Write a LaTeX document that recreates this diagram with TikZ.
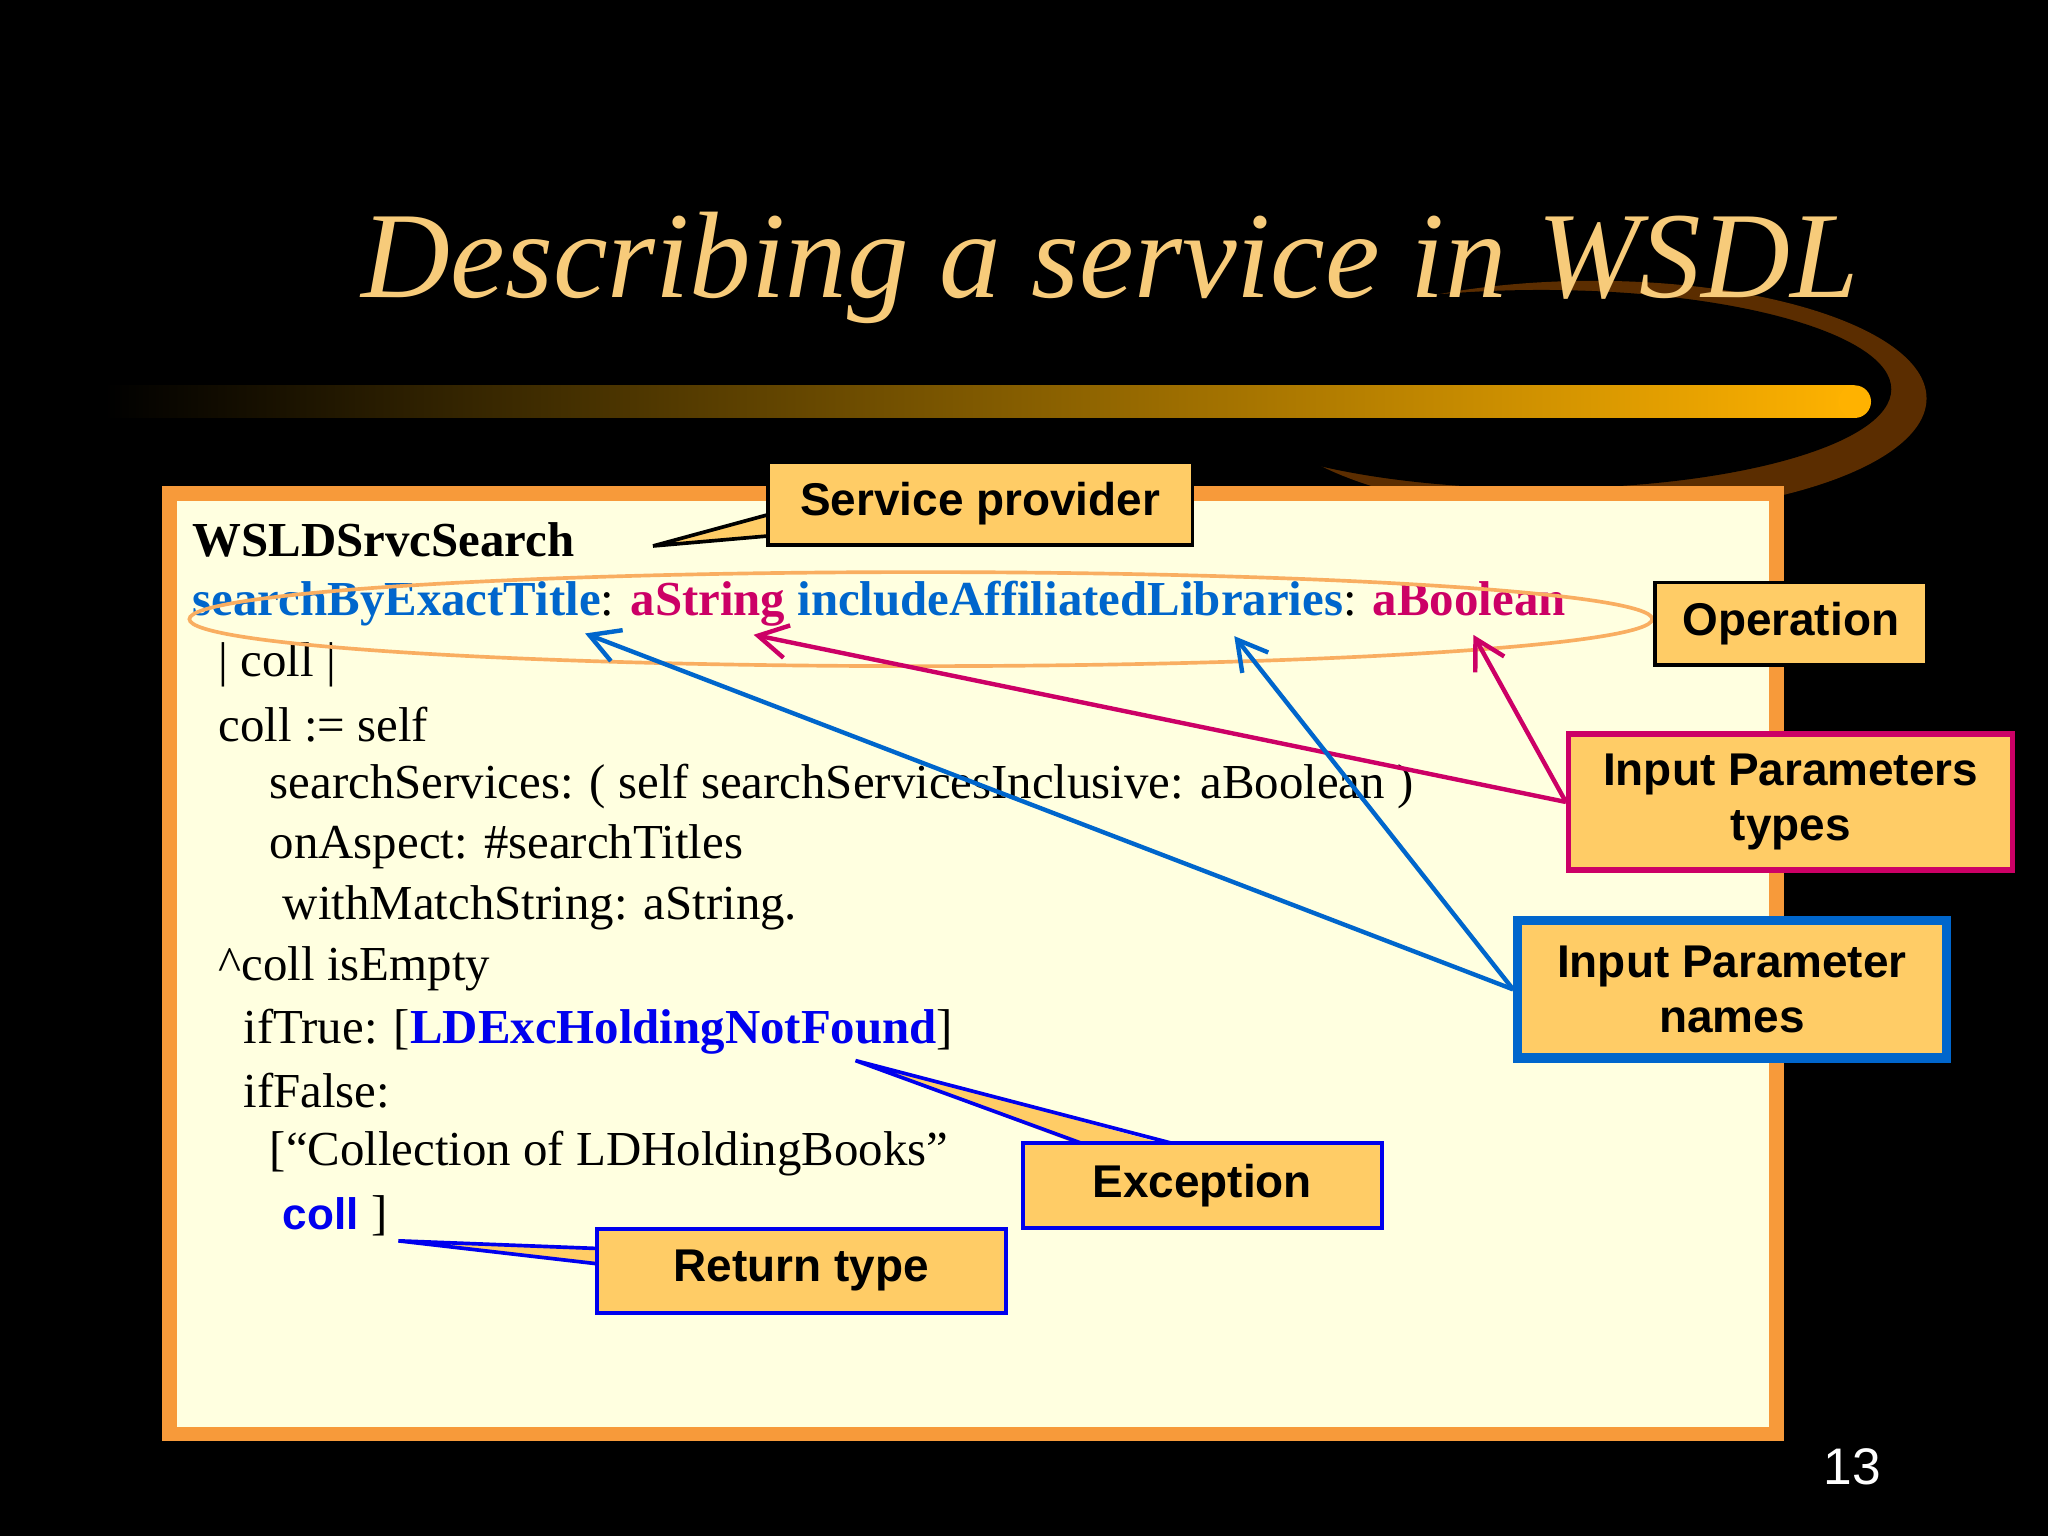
\documentclass[tikz,border=0pt]{standalone}
\usepackage{fontspec}
\setmainfont{Liberation Serif}
\newfontfamily\arialf{Liberation Sans}
\usetikzlibrary{arrows.meta,shapes.geometric}
\definecolor{gold}{HTML}{F7CB7A}
\definecolor{boxbg}{HTML}{FFFFE0}
\definecolor{boxbd}{HTML}{F79A3A}
\definecolor{call}{HTML}{FFCC66}
\definecolor{mag}{HTML}{CC0066}
\definecolor{nblue}{HTML}{0066CC}
\definecolor{dblue}{HTML}{0000EE}
\begin{document}
\begin{tikzpicture}[x=0.0125cm,y=-0.0125cm,
  code/.style={anchor=west,inner sep=0,font=\fontsize{13.3}{15}\selectfont},
  callout/.style={draw,fill=call,line width=1pt,inner sep=0,font=\arialf\bfseries\fontsize{12.5}{15}\selectfont,align=center},
  arr/.style={line width=1.2pt,-{Straight Barb[length=8pt,width=9pt]}}]
\useasboundingbox (0,0) rectangle (1568,1176);
\fill[black] (0,0) rectangle (1568,1176);
% swoosh
\fill[orange!60!black,opacity=0.6] (1220,305) ellipse (255 and 90);
\fill[black] (1180,298) ellipse (268 and 76);
\shade[left color=black,right color=orange!60!yellow] (80,295) rectangle (1420,320);
\fill[orange!60!yellow] (1420,307.5) circle (12.5);
\node[font=\itshape\fontsize{33.5}{40}\selectfont,text=gold] (title) at (850,205) {Describing a service in WSDL};
% box
\draw[fill=boxbg,draw=boxbd,line width=4pt] (130,378) rectangle (1360,1098);
% code
\node[code,font=\bfseries\fontsize{13.3}{15}\selectfont] (l1) at (147,413) {WSLDSrvcSearch};
\node[code] (l2) at (147,462) {\textcolor{nblue}{\bfseries searchByExactTitle}: \textcolor{mag}{\bfseries aString} \textcolor{nblue}{\bfseries includeAffiliatedLibraries}: \textcolor{mag}{\bfseries aBoolean}};
\node[code] (l3) at (167,509) {| coll |};
\node[code] (l4) at (167,555) {coll := self};
\node[code] (l5) at (206,602) {searchServices: ( self searchServicesInclusive: aBoolean )};
\node[code] (l6) at (206,648) {onAspect: \#searchTitles};
\node[code] (l7) at (216,695) {withMatchString: aString.};
\node[code] (l8) at (167,742) {\textasciicircum coll isEmpty};
\node[code] (l9) at (186,790) {ifTrue: [\textcolor{dblue}{\bfseries LDExcHoldingNotFound}]};
\node[code] (l10) at (186,835) {ifFalse:};
\node[code] (l11) at (206,883) {[“Collection of LDHoldingBooks”};
\node[code] (l12) at (216,931) {\textcolor{dblue}{\arialf\bfseries\fontsize{12}{14}\selectfont coll} ]};
\node[draw=boxbd!80,line width=1pt,ellipse,minimum width=1120*0.0125cm,minimum height=72*0.0125cm] (oval) at (705,474) {};
% callouts
\coordinate (sp) at (500,418);
\fill[call] (sp) -- (592,393) -- (592,410) -- cycle;
\draw[line width=1pt] (592,393) -- (sp) -- (592,410);
\node[callout,minimum width=325*0.0125cm,minimum height=63*0.0125cm] (svc) at (750.5,385.5) {Service provider};
\node[callout,minimum width=208*0.0125cm,minimum height=63*0.0125cm] (op) at (1371,477.5) {Operation};
\node[callout,draw=mag,line width=1.5pt,minimum width=340*0.0125cm,minimum height=104*0.0125cm] (ipt) at (1371,614) {Input Parameters\\types};
\node[callout,draw=nblue,line width=2.5pt,minimum width=328*0.0125cm,minimum height=105*0.0125cm] (ipn) at (1326,757.5) {Input Parameter\\names};
\coordinate (ex) at (655,812);
\fill[call] (ex) -- (830,878) -- (900,878) -- cycle;
\draw[dblue,line width=1pt] (830,876) -- (ex) -- (900,876);
\node[callout,draw=dblue,minimum width=275*0.0125cm,minimum height=65*0.0125cm] (exc) at (920.5,907.5) {Exception};
\coordinate (rt) at (305,950);
\fill[call] (rt) -- (461,957) -- (461,968) -- cycle;
\draw[dblue,line width=1pt] (461,956) -- (rt) -- (461,968);
\node[callout,draw=dblue,minimum width=313*0.0125cm,minimum height=64*0.0125cm] (ret) at (613.5,973) {Return type};
% arrows
\coordinate (a1) at (577,486);
\coordinate (a2) at (1128,486);
\coordinate (b1) at (448,485);
\coordinate (b2) at (945,487);
\draw[arr,mag] (ipt.west) -- (a1);
\draw[arr,mag] (ipt.west) -- (a2);
\draw[arr,nblue] (ipn.west) -- (b1);
\draw[arr,nblue] (ipn.west) -- (b2);
\node[text=white,font=\arialf\fontsize{14}{16}\selectfont] (pg) at (1418,1123) {13};
\end{tikzpicture}
\end{document}
